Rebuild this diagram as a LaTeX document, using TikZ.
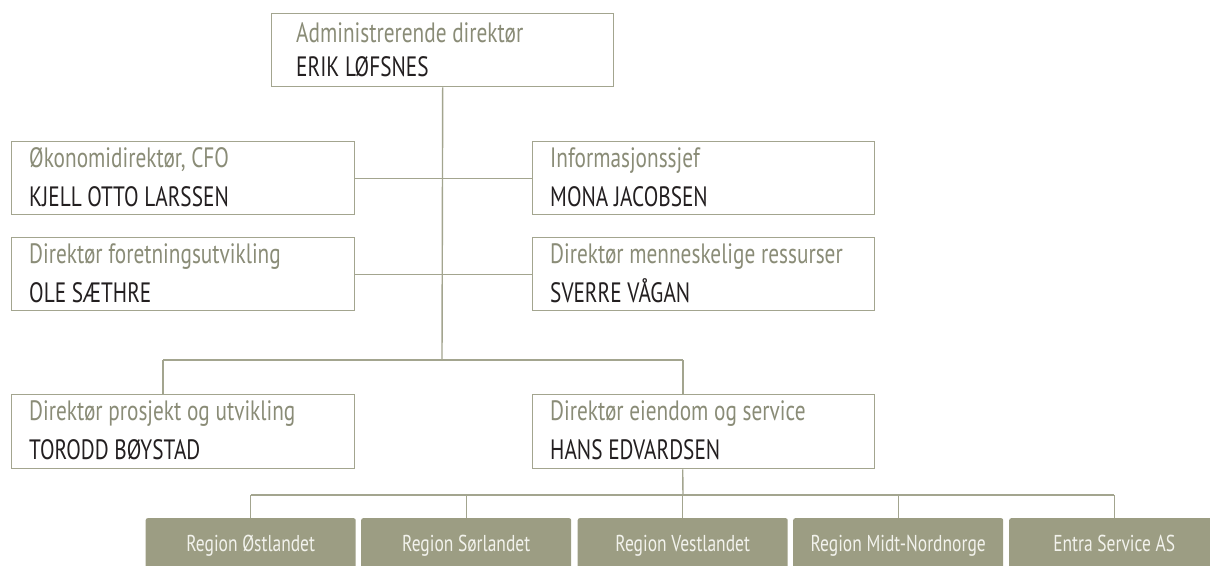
\documentclass[tikz,border=0pt]{standalone}
\usepackage{fontspec}
\setmainfont{PT Sans}[FakeStretch=0.76]
\definecolor{olive}{HTML}{A3A58F}
\definecolor{fillc}{HTML}{9C9D83}
\definecolor{titlec}{HTML}{8A8C77}
\definecolor{namec}{HTML}{231F20}
\definecolor{regtext}{HTML}{F2F2EC}
\begin{document}
\begin{tikzpicture}[x=1pt,y=-1pt,
  box/.style={draw=olive, line width=1.4pt, fill=white, rectangle, inner sep=0pt, anchor=north west},
  ttl/.style={anchor=base west, inner sep=0pt, font=\fontsize{28}{28}\selectfont, text=titlec},
  nme/.style={anchor=base west, inner sep=0pt, font=\fontsize{28}{28}\selectfont, text=namec},
  region/.style={fill=fillc, rounded corners=2pt, minimum width=210pt, minimum height=50pt, inner sep=0pt, anchor=north west},
  regtxt/.style={anchor=base, inner sep=0pt, font=\fontsize{23}{23}\selectfont, text=regtext},
  link/.style={draw=olive, line width=1.4pt}]
\useasboundingbox (0,0) rectangle (1210,565);
\clip (0,0) rectangle (1210,565);
% boxes
\node[box, minimum width=342pt, minimum height=73pt] (ceo) at (271,13) {};
\node[box, minimum width=343pt, minimum height=73pt] (cfo) at (11,141) {};
\node[box, minimum width=342pt, minimum height=73pt] (info) at (532,141) {};
\node[box, minimum width=343pt, minimum height=73pt] (fu) at (11,237) {};
\node[box, minimum width=342pt, minimum height=73pt] (hr) at (532,237) {};
\node[box, minimum width=343pt, minimum height=74pt] (pu) at (11,394) {};
\node[box, minimum width=342pt, minimum height=74pt] (es) at (532,394) {};
% regions
\node[region] (r1) at (145.5,518) {};
\node[region] (r2) at (361,518) {};
\node[region] (r3) at (577.5,518) {};
\node[region] (r4) at (793,518) {};
\node[region] (r5) at (1009,518) {};
% junction coordinates
\coordinate (j1) at (442,360);
\coordinate (jl) at (163,360);
\coordinate (jr) at (683,360);
\coordinate (j2) at (683,495);
% connectors
\draw[link] (ceo.south) -- (j1);
\draw[link] (cfo.east) -- (info.west);
\draw[link] (fu.east) -- (hr.west);
\draw[link] (jl) -- (jr);
\draw[link] (jl) -- (jl |- pu.north);
\draw[link] (jr) -- (jr |- es.north);
\draw[link] (r3.north |- es.south) -- (j2);
\draw[link] (r1.north |- j2) -- (r5.north |- j2);
\foreach \r in {r1,r2,r3,r4,r5} { \draw[link] (\r.north |- j2) -- (\r.north); }
% texts
\node[ttl] (ceot) at ([xshift=25pt,yshift=-29pt]ceo.north west) {Administrerende direktør};
\node[nme] (ceon) at ([xshift=25pt,yshift=-63pt]ceo.north west) {ERIK LØFSNES};
\node[ttl] (cfot) at ([xshift=18pt,yshift=-26pt]cfo.north west) {Økonomidirektør, CFO};
\node[nme] (cfon) at ([xshift=18pt,yshift=-65pt]cfo.north west) {KJELL OTTO LARSSEN};
\node[ttl] (infot) at ([xshift=18pt,yshift=-26pt]info.north west) {Informasjonssjef};
\node[nme] (infon) at ([xshift=18pt,yshift=-65pt]info.north west) {MONA JACOBSEN};
\node[ttl] (fut) at ([xshift=18pt,yshift=-26pt]fu.north west) {Direktør foretningsutvikling};
\node[nme] (fun) at ([xshift=18pt,yshift=-65pt]fu.north west) {OLE SÆTHRE};
\node[ttl] (hrt) at ([xshift=18pt,yshift=-26pt]hr.north west) {Direktør menneskelige ressurser};
\node[nme] (hrn) at ([xshift=18pt,yshift=-65pt]hr.north west) {SVERRE VÅGAN};
\node[ttl] (put) at ([xshift=18pt,yshift=-26pt]pu.north west) {Direktør prosjekt og utvikling};
\node[nme] (pun) at ([xshift=18pt,yshift=-65pt]pu.north west) {TORODD BØYSTAD};
\node[ttl] (est) at ([xshift=18pt,yshift=-26pt]es.north west) {Direktør eiendom og service};
\node[nme] (esn) at ([xshift=18pt,yshift=-65pt]es.north west) {HANS EDVARDSEN};
\node[regtxt] (r1t) at ([yshift=-33pt]r1.north) {Region Østlandet};
\node[regtxt] (r2t) at ([yshift=-33pt]r2.north) {Region Sørlandet};
\node[regtxt] (r3t) at ([yshift=-33pt]r3.north) {Region Vestlandet};
\node[regtxt] (r4t) at ([yshift=-33pt]r4.north) {Region Midt-Nordnorge};
\node[regtxt] (r5t) at ([yshift=-33pt]r5.north) {Entra Service AS};
\end{tikzpicture}
\end{document}
